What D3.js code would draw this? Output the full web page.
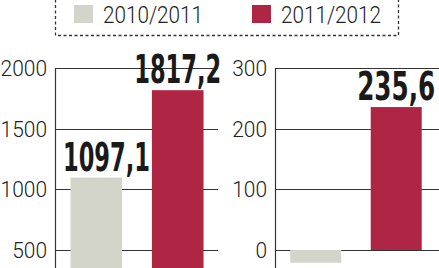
<!DOCTYPE html>
<html>
<head>
<meta charset="utf-8">
<script src="https://cdn.jsdelivr.net/npm/d3@7"></script>
<style>
  html, body { margin: 0; padding: 0; background: #fff; }
  svg { display: block; }
</style>
</head>
<body>
<svg width="439" height="268"></svg>
<script>
// data
const series = ["2010/2011", "2011/2012"];
const colors = ["#d4d5ca", "#af2544"];
const leftValues = [1097.1, 1817.2];
const rightValues = [-21, 235.6];
const leftTicks = [500, 1000, 1500, 2000];
const rightTicks = [0, 100, 200, 300];

const svg = d3.select("svg");
const width = +svg.attr("width");
const height = +svg.attr("height");

const fmt = v => d3.format(".1f")(v).replace(".", ",");
// rough width of the condensed bold digits
const labelWidth = s => d3.sum(s.split(""), c => c === "1" ? 13 : c === "," ? 10 : 17);

// legend
const legend = svg.append("g");
legend.append("rect")
  .attr("x", 55.5).attr("y", -10)
  .attr("width", 343).attr("height", 45.5)
  .attr("fill", "none")
  .attr("stroke", "#333")
  .attr("stroke-width", 1.3)
  .attr("stroke-dasharray", "3,2.5");

const legendX = d3.scaleOrdinal().domain(series).range([74, 252]);
const items = legend.selectAll("g.item")
  .data(series)
  .join("g")
  .attr("class", "item")
  .attr("transform", d => `translate(${legendX(d)},5)`);
items.append("rect")
  .attr("width", 19).attr("height", 18)
  .attr("fill", (d, i) => colors[i]);
items.append("text")
  .attr("x", 29).attr("y", 17.5)
  .attr("font-family", "Roboto, sans-serif")
  .attr("font-weight", 300)
  .attr("font-size", 24)
  .attr("fill", "#222")
  .attr("textLength", 100)
  .attr("lengthAdjust", "spacingAndGlyphs")
  .text(d => d);

function panel(opts) {
  const { x0, x1, gridEnd, domain, values, ticks } = opts;
  const g = svg.append("g");

  const y = d3.scaleLinear().domain(domain).range([250, 68]);
  const x = d3.scaleBand()
    .domain(series)
    .range([x0, x1])
    .paddingInner(0.366)
    .paddingOuter(0.19);

  // gridlines
  g.append("g")
    .selectAll("line")
    .data(ticks)
    .join("line")
    .attr("x1", x0).attr("x2", gridEnd)
    .attr("y1", d => Math.round(y(d)) + 0.5)
    .attr("y2", d => Math.round(y(d)) + 0.5)
    .attr("stroke", "#333")
    .attr("stroke-width", 1.2);

  // axis line
  g.append("line")
    .attr("x1", x0 + 0.5).attr("x2", x0 + 0.5)
    .attr("y1", Math.round(y(domain[1]))).attr("y2", height)
    .attr("stroke", "#333")
    .attr("stroke-width", 1.2);

  // tick labels
  g.append("g")
    .selectAll("text")
    .data(ticks)
    .join("text")
    .attr("x", x0 - 8)
    .attr("y", d => y(d))
    .attr("dy", "0.37em")
    .attr("text-anchor", "end")
    .attr("font-family", "Roboto, sans-serif")
    .attr("font-weight", 300)
    .attr("font-size", 22)
    .attr("fill", "#222")
    .attr("textLength", d => String(d).length * 11.6)
    .attr("lengthAdjust", "spacingAndGlyphs")
    .text(d => d);

  // bars
  const data = series.map((s, i) => ({ s, v: values[i], c: colors[i] }));
  g.append("g")
    .selectAll("rect")
    .data(data)
    .join("rect")
    .attr("x", d => x(d.s))
    .attr("width", x.bandwidth())
    .attr("y", d => Math.min(y(d.v), y(0)))
    .attr("height", d => Math.abs(y(0) - y(d.v)))
    .attr("fill", d => d.c);

  // value labels (only for positive values), kept clear of the axis
  g.append("g")
    .selectAll("text")
    .data(data.filter(d => d.v > 0))
    .join("text")
    .attr("x", d => Math.max(x(d.s) + x.bandwidth() / 2, x0 + 8 + labelWidth(fmt(d.v)) / 2))
    .attr("y", d => y(d.v) - 7)
    .attr("text-anchor", "middle")
    .attr("font-family", "'Liberation Sans Narrow', 'DejaVu Sans Condensed', sans-serif")
    .attr("font-weight", 700)
    .attr("font-size", 39)
    .attr("fill", "#1a1a1a")
    .attr("textLength", d => labelWidth(fmt(d.v)))
    .attr("lengthAdjust", "spacingAndGlyphs")
    .text(d => fmt(d.v));

  return g;
}

panel({
  x0: 55, x1: 219, gridEnd: 218,
  domain: [500, 2000],
  values: leftValues,
  ticks: leftTicks
});

panel({
  x0: 275, x1: 437, gridEnd: width,
  domain: [0, 300],
  values: rightValues,
  ticks: rightTicks
});
</script>
</body>
</html>
